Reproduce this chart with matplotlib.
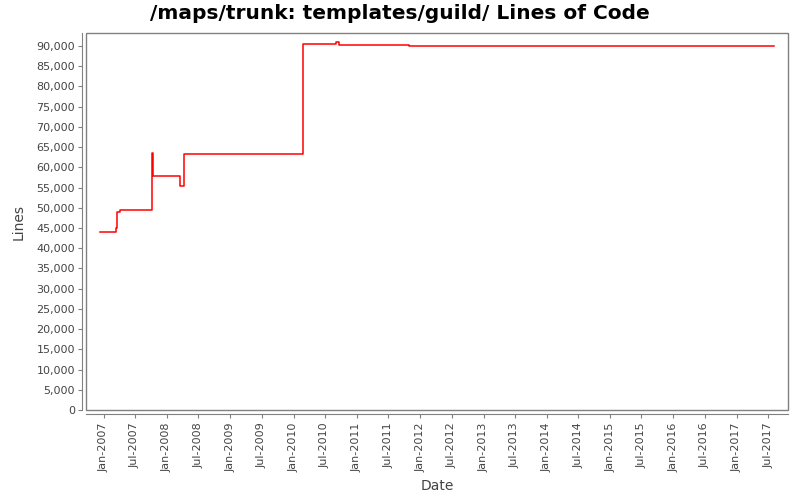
from datetime import datetime
import matplotlib
matplotlib.use("Agg")
import matplotlib.pyplot as plt
import matplotlib.dates as mdates
from matplotlib.patches import Rectangle
from matplotlib.ticker import FuncFormatter, MultipleLocator

# revision dates and line counts
dates = ["2006-12-10", "2007-03-12", "2007-03-17", "2007-04-05", "2007-10-10",
         "2007-10-13", "2008-03-20", "2008-04-08", "2010-02-26", "2010-09-05",
         "2010-09-23", "2011-10-31", "2017-08-03"]
lines = [44000, 45000, 48900, 49400, 63600,
         57800, 55400, 63300, 90400, 90900,
         90200, 90000, 90000]

x_start = datetime(2006, 9, 22)
x_end = datetime(2017, 10, 23)
tick_dates = [datetime(y, m, 1) for y in range(2007, 2018) for m in (1, 7)]

grey = "#808080"
text_col = "#444444"

plt.rcParams["font.family"] = ["DejaVu Sans"]

fig = plt.figure(figsize=(8, 5), dpi=100)
ax = fig.add_axes([0.1075, 0.18, 0.8775, 0.754])

xs = [datetime.strptime(d, "%Y-%m-%d") for d in dates]
ax.plot(xs, lines, color="red", linewidth=1.1, drawstyle="steps-post")

ax.set_xlim(x_start, x_end)
ax.set_ylim(0, 93220)

# frame around the plot area
ax.add_patch(Rectangle((0, 0), 1, 1, transform=ax.transAxes, fill=False,
                       edgecolor=grey, linewidth=1.0, clip_on=False, zorder=5))
for s in ["top", "right"]:
    ax.spines[s].set_visible(False)
for s in ["left", "bottom"]:
    ax.spines[s].set_position(("outward", 3))
    ax.spines[s].set_color(grey)

ax.set_xticks(tick_dates)
ax.xaxis.set_major_formatter(mdates.DateFormatter("%b-%Y"))
ax.yaxis.set_major_locator(MultipleLocator(5000))
ax.yaxis.set_major_formatter(FuncFormatter(lambda v, p: f"{int(v):,}"))
ax.tick_params(axis="x", labelrotation=90, labelsize=8, colors=grey,
               labelcolor=text_col, length=3, pad=3)
ax.tick_params(axis="y", labelsize=8, colors=grey, labelcolor=text_col,
               length=3, pad=2)

ax.set_xlabel("Date", fontsize=10, color=text_col, labelpad=5)
ax.set_ylabel("Lines", fontsize=10, color=text_col, labelpad=8)
fig.suptitle("/maps/trunk: templates/guild/ Lines of Code", fontsize=14.5,
             fontweight="bold", x=0.5, y=0.992, va="top")

fig.savefig("out.png", dpi=100)
